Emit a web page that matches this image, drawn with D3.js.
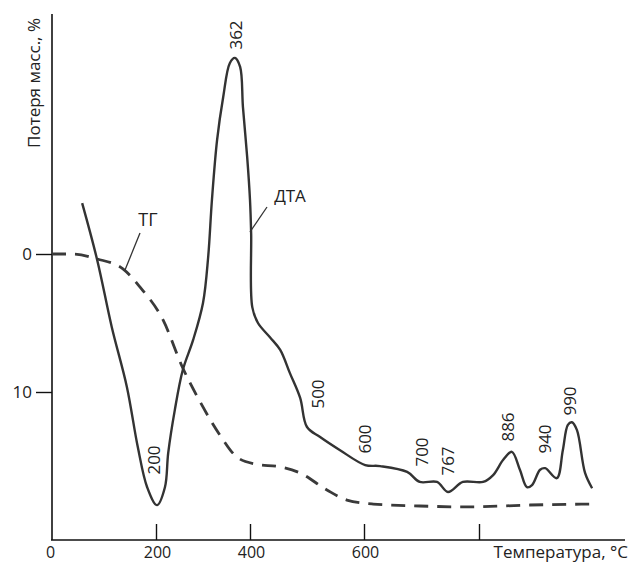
<!DOCTYPE html>
<html>
<head>
<meta charset="utf-8">
<script src="https://cdn.jsdelivr.net/npm/d3@7/dist/d3.min.js"></script>
<style>
  html, body { margin: 0; padding: 0; background: #fff; }
  svg text { font-family: "Open Sans", "DejaVu Sans", sans-serif; fill: #222; }
</style>
</head>
<body>
<svg id="chart" width="630" height="565"></svg>
<script>
// ---- data ----
// Temperature axis ticks (°C)
const xTickValues = [0, 200, 400, 600, 800];
const xTickLabels = ["0", "200", "400", "600", ""];
// Mass-loss axis ticks (%)
const yTickValues = [0, 10];
const yTickLabels = ["0", "10"];

// TG curve: temperature (°C) and mass loss (%)
const tgTemp = [0, 40, 87, 137, 169, 215, 257, 294, 336, 372, 409, 453, 488, 535, 570, 616, 697, 779, 901, 1026];
const tgLoss = [0, 0, 0.36, 1.09, 2.39, 4.78, 8.26, 10.72, 13.12, 14.71, 15.22, 15.43, 15.87, 17.1, 17.83, 18.12, 18.26, 18.33, 18.19, 18.12];

// DTA curve: temperature (°C) and signal (arbitrary units)
const dtaTemp = [58, 87, 115, 144, 165, 183, 202, 219, 226, 240, 257, 279, 300, 311, 319, 330, 343, 357, 368, 379, 385, 394, 400, 402, 404, 414, 435, 453, 470, 488, 500, 523, 558, 602, 628, 675, 697, 727, 746, 772, 808, 828, 848, 865, 881, 895, 905, 921, 931, 954, 966, 976, 984, 994, 1010, 1024];
const dtaSignal = [63.8, 53.0, 40.3, 29.0, 17.6, 10.0, 6.6, 10.0, 16.5, 24.6, 32.2, 37.9, 44.9, 53.6, 64.4, 75.8, 83.9, 90.3, 91.3, 89.6, 82.0, 72.5, 64.4, 58.1, 44.1, 41.1, 38.4, 36.0, 31.6, 26.9, 21.4, 19.5, 17.0, 14.2, 14.0, 12.9, 11.0, 11.0, 9.1, 11.0, 11.0, 12.3, 15.2, 16.7, 13.3, 10.0, 10.4, 13.3, 13.6, 11.7, 17.0, 21.8, 22.3, 20.8, 12.7, 9.8];

// Peak temperature annotations on DTA curve
const peakLabels = ["200", "362", "500", "600", "700", "767", "886", "940", "990"];

// Texts
const yTitle = "Потеря масс., %";
const xTitle = "Температура, °C";
const tgName = "ТГ";
const dtaName = "ДТА";

// ---- layout ----
const svg = d3.select("#chart");
const X0 = 52, AXIS_Y = 540, AXIS_TOP = 14, AXIS_RIGHT = 625;
const FONT = 17, FONT_BOTTOM = 16;

// hand-drawn temperature axis: tick positions are slightly uneven
const x = d3.scaleLinear()
  .domain([0, 200, 400, 600, 800, 1000])
  .range([X0, 156, 250, 364, 479, 580]);
const yTG = d3.scaleLinear().domain([0, 10]).range([254, 392]);
const yDTA = d3.scaleLinear().domain([0, 100]).range([AXIS_Y, 12]);

// axes lines
svg.append("line").attr("x1", X0).attr("x2", X0).attr("y1", AXIS_TOP).attr("y2", AXIS_Y)
  .attr("stroke", "#111").attr("stroke-width", 1.6);
svg.append("line").attr("x1", X0 - 1).attr("x2", AXIS_RIGHT).attr("y1", AXIS_Y).attr("y2", AXIS_Y)
  .attr("stroke", "#111").attr("stroke-width", 1.6);

// x axis ticks
const xAxis = d3.axisBottom(x)
  .tickValues(xTickValues)
  .tickSize(-16)
  .tickPadding(7)
  .tickFormat((d, i) => xTickLabels[i]);
const gx = svg.append("g").attr("transform", `translate(0,${AXIS_Y})`).call(xAxis);
gx.select(".domain").remove();
gx.selectAll(".tick line").attr("stroke", "#111").attr("stroke-width", 1.4)
  .filter(d => d === 0).remove();
gx.selectAll(".tick text").attr("font-size", FONT_BOTTOM).attr("font-family", null).style("fill", "#222")
  .attr("dx", d => d === 0 ? -2 : 1);

// y axis ticks
const yAxis = d3.axisLeft(yTG)
  .tickValues(yTickValues)
  .tickSize(16)
  .tickPadding(4)
  .tickFormat((d, i) => yTickLabels[i]);
const gy = svg.append("g").attr("transform", `translate(${X0},0)`).call(yAxis);
gy.select(".domain").remove();
gy.selectAll(".tick line").attr("stroke", "#111").attr("stroke-width", 1.4);
gy.selectAll(".tick text").attr("font-size", FONT).attr("font-family", null).style("fill", "#222");

// axis titles
svg.append("text")
  .attr("transform", "translate(33,83) rotate(-90)")
  .attr("text-anchor", "middle").attr("dominant-baseline", "central")
  .attr("font-size", FONT).text(yTitle);
svg.append("text")
  .attr("x", 628).attr("y", 558)
  .attr("text-anchor", "end")
  .attr("font-size", FONT_BOTTOM + 1).text(xTitle);

// TG curve (dashed)
const tgData = tgTemp.map((t, i) => [t, tgLoss[i]]);
svg.append("path")
  .datum(tgData)
  .attr("fill", "none")
  .attr("stroke", "#3a3a3a")
  .attr("stroke-width", 2.8)
  .attr("stroke-dasharray", "14 9")
  .attr("d", d3.line().x(d => x(d[0])).y(d => yTG(d[1])).curve(d3.curveMonotoneX));

// DTA curve (solid)
const dtaData = dtaTemp.map((t, i) => [t, dtaSignal[i]]);
svg.append("path")
  .datum(dtaData)
  .attr("fill", "none")
  .attr("stroke", "#333")
  .attr("stroke-width", 2.4)
  .attr("stroke-linejoin", "round")
  .attr("d", d3.line().x(d => x(d[0])).y(d => yDTA(d[1])).curve(d3.curveCatmullRom.alpha(0.5)));

// peak labels (rotated), offsets relative to the scale position of each temperature
const peakLayout = {
  "200": [-3, 460], "362": [3, 35], "500": [10, 394], "600": [0, 439], "700": [0, 452],
  "767": [-13, 461], "886": [-15, 427], "940": [-5, 439], "990": [-5, 401]
};
peakLabels.forEach(lbl => {
  const [dx, cy] = peakLayout[lbl];
  svg.append("text")
    .attr("transform", `translate(${x(+lbl) + dx},${cy}) rotate(-90)`)
    .attr("text-anchor", "middle").attr("dominant-baseline", "central")
    .attr("font-size", FONT).text(lbl);
});

// curve name labels with pointer lines
svg.append("text").attr("x", 148).attr("y", 219)
  .attr("text-anchor", "middle").attr("dominant-baseline", "central")
  .attr("font-size", FONT + 1).text(tgName);
svg.append("line").attr("x1", 140).attr("y1", 233).attr("x2", 125).attr("y2", 270)
  .attr("stroke", "#333").attr("stroke-width", 1.3);

svg.append("text").attr("x", 290).attr("y", 195)
  .attr("text-anchor", "middle").attr("dominant-baseline", "central")
  .attr("font-size", FONT).text(dtaName);
svg.append("line").attr("x1", 267).attr("y1", 207).attr("x2", 250).attr("y2", 232)
  .attr("stroke", "#333").attr("stroke-width", 1.3);
</script>
</body>
</html>
